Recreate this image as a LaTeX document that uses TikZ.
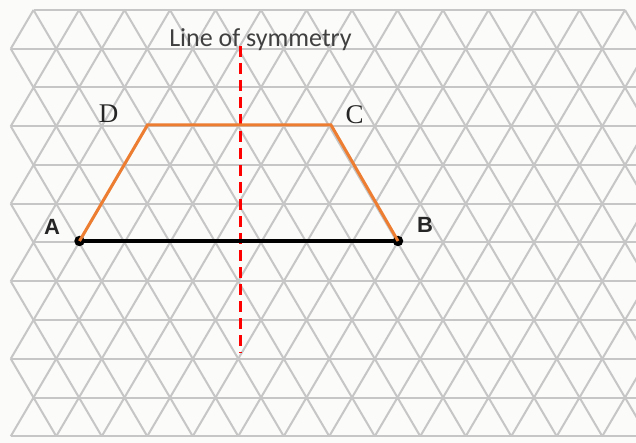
\documentclass[tikz,border=0pt]{standalone}
\usepackage{fontspec}
\newfontfamily\calfont{Carlito}
\newfontfamily\arialfont{Liberation Sans}
\newfontfamily\tnrfont{Liberation Serif}
\definecolor{bgcol}{RGB}{251,251,249}
\definecolor{gridcol}{RGB}{198,198,198}
\definecolor{orangecol}{RGB}{237,125,49}
\definecolor{textgray}{RGB}{64,64,64}
\definecolor{redcol}{RGB}{255,0,0}
\tikzset{
  gridline/.style={draw=gridcol, line width=2pt},
  shapeline/.style={draw=orangecol, line width=3pt, line join=miter},
  baseline seg/.style={draw=black, line width=3.6pt},
  symline/.style={draw=redcol, line width=3pt, dash pattern=on 11pt off 6pt},
  dotstyle/.style={circle, fill=black, inner sep=0pt, minimum size=10.5pt},
  serifletter/.style={font=\tnrfont\fontsize{27}{30}\selectfont, text=black!85},
  sansletter/.style={font=\arialfont\bfseries\fontsize{22}{26}\selectfont, text=black!85},
}
\begin{document}
\begin{tikzpicture}[x=1pt,y=-1pt]
\useasboundingbox (0,0) rectangle (636,443);
\fill[bgcol] (0,0) rectangle (636,443);
\begin{scope}
\clip (0,0) rectangle (636,443);
% horizontal lines
\foreach \k in {2,4,...,10} {
  \draw[gridline] (33.5,{10+38.75*\k}) -- (640,{10+38.75*\k});
}
\draw[gridline] (33.5,10) -- (625,10);
\foreach \k in {1,3,...,11} {
  \draw[gridline] (10.75,{10+38.75*\k}) -- (640,{10+38.75*\k});
}
% diagonals from even rows
\foreach \k in {0,2,...,10} {
  \foreach \j in {0,...,14} {
    \draw[gridline] ({33.5+45.5*\j},{10+38.75*\k}) -- ++(-22.75,38.75)
                    ({33.5+45.5*\j},{10+38.75*\k}) -- ++(22.75,38.75);
  }
}
% diagonals from odd rows
\foreach \k in {1,3,...,9} {
  \foreach \j in {0,...,14} {
    \ifnum\j>0
      \draw[gridline] ({10.75+45.5*\j},{10+38.75*\k}) -- ++(-22.75,38.75);
    \fi
    \draw[gridline] ({10.75+45.5*\j},{10+38.75*\k}) -- ++(22.75,38.75);
  }
}
\end{scope}
% points
\coordinate (A) at (79.5,241);
\coordinate (B) at (398,241);
\coordinate (D) at (147.5,125);
\coordinate (C) at (331,125);
\coordinate (symtop) at (240,46);
\coordinate (symbot) at (240,353);
% symmetry line
\draw[symline] (symtop) -- (symbot);
% base
\draw[baseline seg] (A) -- (B);
\node[dotstyle] (dA) at (A) {};
\node[dotstyle] (dB) at (B) {};
% trapezium sides
\draw[shapeline] (A) -- (D) -- (C) -- (B);
% labels
\node[serifletter] (lD) at (108.5,114) {D};
\node[serifletter] (lC) at (354.5,115) {C};
\node[sansletter] (lA) at (52,227) {A};
\node[sansletter] (lB) at (425,225) {B};
\node[anchor=base, font=\calfont\fontsize{26}{30}\selectfont, text=textgray, inner sep=0pt] (title) at (260.5,47) {Line of symmetry};
\end{tikzpicture}
\end{document}
